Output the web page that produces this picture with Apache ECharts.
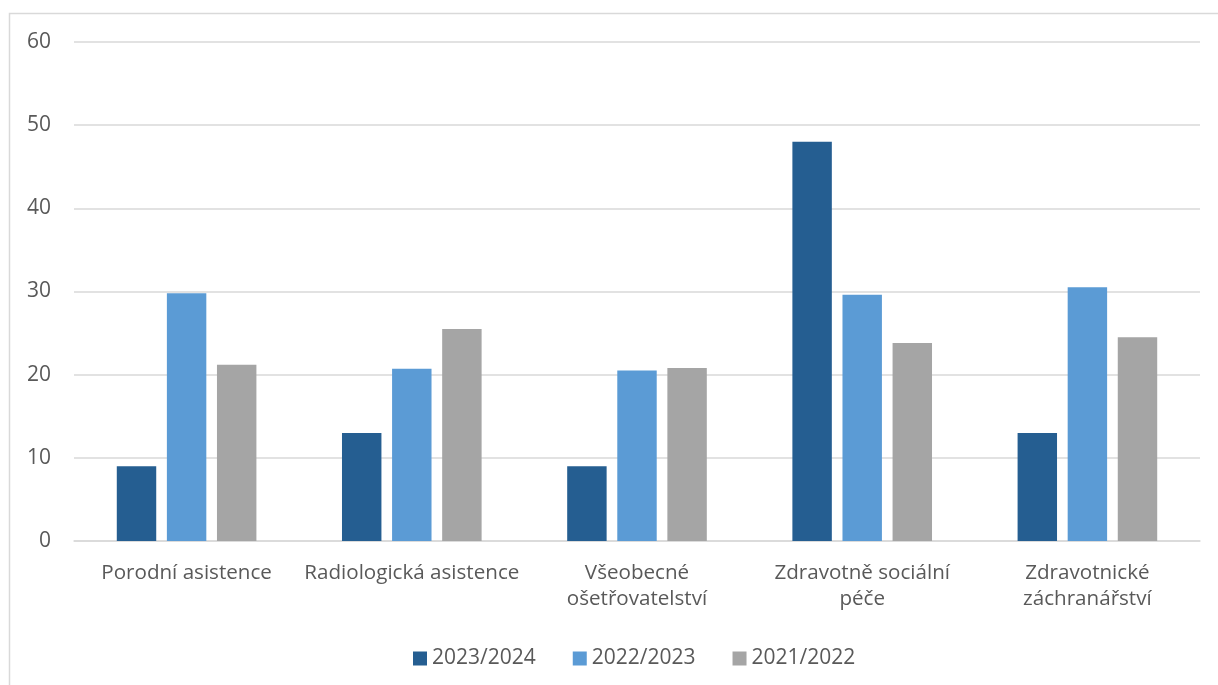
<!DOCTYPE html>
<html>
<head>
<meta charset="utf-8">
<script src="https://cdn.jsdelivr.net/npm/echarts@6/dist/echarts.min.js"></script>
<style>
html,body{margin:0;padding:0;background:#fff;}
#chart{width:1218px;height:685px;}
</style>
</head>
<body>
<div id="chart"></div>
<script>
const categories = ["Porodní asistence", "Radiologická asistence", "Všeobecné\nošetřovatelství", "Zdravotně sociální\npéče", "Zdravotnické\nzáchranářství"];
const seriesNames = ["2023/2024", "2022/2023", "2021/2022"];
const values2324 = [9.0, 13.0, 9.0, 48.0, 13.0];
const values2223 = [29.8, 20.7, 20.5, 29.6, 30.5];
const values2122 = [21.2, 25.5, 20.8, 23.8, 24.5];
const colors = ["#255E91", "#5B9BD5", "#A5A5A5"];
const textColor = "#595959";
const fontFamily = "Open Sans";

const chart = echarts.init(document.getElementById('chart'));
chart.setOption({
  animation: false,
  textStyle: {fontFamily: fontFamily},
  graphic: [{
    type: 'rect', silent: true, z: -1,
    shape: {x: 9.5, y: 13.5, width: 1230, height: 700},
    style: {fill: 'none', stroke: '#d9d9d9', lineWidth: 1.5}
  }],
  grid: {left: 74, right: 18, top: 42, bottom: 144},
  legend: {
    data: seriesNames,
    bottom: 11,
    left: 408,
    itemWidth: 14, itemHeight: 14, itemGap: 37,
    icon: 'rect',
    textStyle: {color: textColor, fontSize: 21, fontFamily: fontFamily}
  },
  xAxis: {
    type: 'category',
    data: categories,
    axisLine: {lineStyle: {color: '#d9d9d9', width: 1.5}},
    axisTick: {show: false},
    axisLabel: {color: textColor, fontSize: 20.6, margin: 19, lineHeight: 26, interval: 0, fontFamily: fontFamily}
  },
  yAxis: {
    type: 'value',
    min: 0, max: 60, interval: 10,
    axisLine: {show: false},
    axisTick: {show: false},
    splitLine: {lineStyle: {color: '#d9d9d9', width: 1.5}},
    axisLabel: {color: textColor, fontSize: 21, margin: 23, fontFamily: fontFamily}
  },
  series: [
    {name: seriesNames[0], type: 'bar', data: values2324, itemStyle: {color: colors[0]}, barGap: '27%', barCategoryGap: '38%'},
    {name: seriesNames[1], type: 'bar', data: values2223, itemStyle: {color: colors[1]}, barGap: '27%', barCategoryGap: '38%'},
    {name: seriesNames[2], type: 'bar', data: values2122, itemStyle: {color: colors[2]}, barGap: '27%', barCategoryGap: '38%'}
  ]
});
</script>
</body>
</html>
